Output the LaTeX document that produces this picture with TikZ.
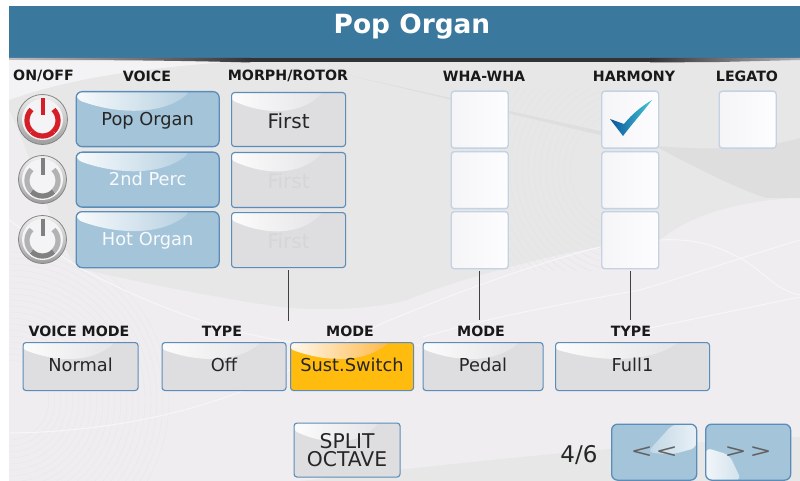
\documentclass[tikz,border=0pt]{standalone}
\usepackage{fontspec}
\usepackage{graphicx}
\setmainfont{DejaVu Sans}
\usetikzlibrary{calc}
\definecolor{hdr}{HTML}{3A789E}
\definecolor{panel}{HTML}{EFEDF0}
\definecolor{swa}{HTML}{E7E7E8}
\definecolor{swb}{HTML}{DEDEDF}
\definecolor{swl}{HTML}{F6F5F7}
\definecolor{ringa}{HTML}{E9E7EA}
\definecolor{ringb}{HTML}{E3E3E4}
\definecolor{edge}{HTML}{5B8DB8}
\definecolor{bluefill}{HTML}{A4C4D9}
\definecolor{greyfill}{HTML}{DEDDE0}
\definecolor{orangefill}{HTML}{FFBB0E}
\definecolor{orangetop}{HTML}{FFA91E}
\definecolor{boxedge}{HTML}{C3D3E3}
\definecolor{boxleft}{HTML}{F5F4F7}
\definecolor{boxright}{HTML}{FDFCFE}
\newcommand{\bbnw}{path picture bounding box.north west}
\newcommand{\bbse}{path picture bounding box.south east}
\tikzset{
  x=1pt,y=-1pt,
  hd/.style={font=\bfseries\fontsize{14.2}{14}\selectfont,text=black!90,inner sep=0pt},
  gloss/.style={path picture={
    \shade[left color=white!92!#1,right color=#1] let \p1=(\bbnw),\p2=(\bbse) in
      (\x1,\y1) -- ({\x1+0.8*(\x2-\x1)},\y1)
      .. controls ({\x1+0.6*(\x2-\x1)},{\y1+0.42*(\y2-\y1)}) and ({\x1+0.3*(\x2-\x1)},{\y1+0.42*(\y2-\y1)})
      .. (\x1,{\y1+0.14*(\y2-\y1)}) -- cycle;}},
  glossprev/.style={path picture={
    \shade[left color=bluefill,right color=white!75!bluefill] let \p1=(\bbnw),\p2=(\bbse) in
      (\x2,\y1) -- ({\x1+0.72*(\x2-\x1)},\y1)
      -- ({\x1+0.42*(\x2-\x1)},{\y1+0.5*(\y2-\y1)})
      .. controls ({\x1+0.7*(\x2-\x1)},{\y1+0.55*(\y2-\y1)}) .. (\x2,{\y1+0.42*(\y2-\y1)}) -- cycle;}},
  glossnext/.style={path picture={
    \shade[left color=white!85!bluefill,right color=bluefill] let \p1=(\bbnw),\p2=(\bbse) in
      (\x1,\y2) -- ({\x1+0.42*(\x2-\x1)},\y2)
      -- ({\x1+0.28*(\x2-\x1)},{\y1+0.55*(\y2-\y1)})
      -- (\x1,{\y1+0.42*(\y2-\y1)}) -- cycle;}},
  btn/.style={draw=edge,line width=1.1pt,rounded corners=3pt,anchor=north west,inner sep=0pt,
    font=\fontsize{17.8}{17.8}\selectfont,text=black!85,text height=13pt,text depth=3.5pt},
  bluebtn/.style={btn,fill=bluefill,rounded corners=6pt,gloss=bluefill,line width=1.3pt,text height=16pt},
  navbtn/.style={btn,fill=bluefill,rounded corners=6pt,line width=1.3pt,text=black!62,font=\fontsize{22}{22}\selectfont,text height=11pt,text depth=0pt},
  greybtn/.style={btn,fill=greyfill,gloss=greyfill},
  orangebtn/.style={btn,fill=orangefill,gloss=orangetop},
  firstbtn/.style={greybtn,font=\fontsize{20}{20}\selectfont,minimum width=114pt,text height=20.5pt},
  tickbox/.style={draw=boxedge,line width=1.4pt,rounded corners=3pt,anchor=north west,inner sep=0pt,
    left color=boxleft,right color=boxright,minimum width=57pt,minimum height=57pt},
  pwr/.style={circle,draw=black!48,line width=0.8pt,top color=black!6,bottom color=black!38,inner sep=0pt},
  link/.style={draw=black!75,line width=0.9pt},
  pale/.style={text=white!92!bluefill},
  ghost/.style={text=black!16},
  sw/.style={draw=swl,line width=1.1pt}
}
\newcommand{\powerface}[1]{\fill[swl!70!panel] (#1) circle[radius=20.5pt];}
\newcommand{\powericon}[3]{%
  \draw[line width=5.2pt,#3] ($(#1)+(11,-10)$) arc[start angle=45,end angle=-45,radius=15.5pt];
  \draw[line width=5.2pt,#3] ($(#1)+(-11,-10)$) arc[start angle=135,end angle=225,radius=15.5pt];
  \draw[line width=5.2pt,#2] ($(#1)+(11,12)$) arc[start angle=-45,end angle=-135,radius=15.5pt];
  \draw[line width=4pt,#2] ($(#1)+(0,-21)$) -- ($(#1)+(0,-4)$);
}
\newcommand{\bigless}{\scalebox{1.2}[.85]{<}\hspace{3pt}\scalebox{1.2}[.85]{<}}
\newcommand{\bigmore}{\scalebox{1.2}[.85]{>}\hspace{3pt}\scalebox{1.2}[.85]{>}}
\begin{document}
\begin{tikzpicture}
\useasboundingbox (0,0) rectangle (800,481);
\fill[white] (0,0) rectangle (800,481);
\fill[panel] (9,6) rectangle (800,481);
% background swirls
\begin{scope}
\clip (9,58) rectangle (800,481);
\fill[swa] (9,60) -- (800,60) -- (800,198) .. controls (740,200) and (690,215) .. (660,240)
  .. controls (620,238) and (480,270) .. (407,300) .. controls (370,310) and (310,312) .. (267,305)
  .. controls (200,295) and (130,280) .. (77,268) .. controls (50,230) and (30,150) .. (9,110) -- cycle;
\fill[swb] (347,75) -- (600,131) -- (657,147) .. controls (700,170) and (740,190) .. (767,198) -- (800,198) -- (800,138)
  .. controls (760,150) and (700,150) .. (657,146) -- (600,135) -- cycle;
\fill[swa] (300,481) .. controls (400,470) and (600,445) .. (800,437) -- (800,481) -- cycle;
\fill[swl!60!panel] (9,60) -- (250,60) .. controls (150,68) and (80,75) .. (9,100) -- cycle;
\begin{scope}
\clip (9,250) rectangle (175,481);
\foreach \r in {40,46,...,160}{\draw[ringa,line width=0.4pt] (9,400) circle[radius=\r];}
\end{scope}
\begin{scope}
\clip (400,90) rectangle (600,270);
\foreach \r in {60,66,...,170}{\draw[ringb,line width=0.4pt] (630,170) circle[radius=\r];}
\end{scope}
\draw[sw] (10,433) .. controls (100,432) and (180,415) .. (240,392) .. controls (290,372) and (340,345) .. (383,323) .. controls (450,295) and (530,265) .. (600,247);
\draw[sw] (423,337) .. controls (480,320) and (540,308) .. (640,290) .. controls (690,275) and (740,258) .. (800,240);
\draw[sw] (650,328) -- (800,297);
\draw[sw] (660,240) .. controls (700,238) and (720,248) .. (740,258) .. controls (765,272) and (775,290) .. (800,295);
\draw[sw] (9,220) .. controls (30,235) and (60,255) .. (80,268) .. controls (130,295) and (200,325) .. (267,338) .. controls (320,348) and (370,350) .. (420,345);
\end{scope}
% header
\fill[hdr] (9,6) rectangle (800,58.5);
\shade[left color=black!25,right color=black!80] (9,58) -- (250,58) -- (250,62.5) .. controls (160,60) and (80,60) .. (9,60) -- cycle;
\fill[black!80] (250,58) rectangle (650,62.5);
\shade[left color=black!80,right color=black!30] (650,58) -- (800,58) -- (800,60) -- (720,62) -- (650,62.5) -- cycle;
\node[text=white,font=\bfseries\fontsize{26.4}{26}\selectfont,inner sep=0pt] (title) at (412,26.5) {Pop Organ};
% column headings
\node[hd] (hon) at (43.5,76) {ON/OFF};
\node[hd] (hvo) at (147,76) {VOICE};
\node[hd] (hmo) at (288,76) {MORPH/ROTOR};
\node[hd] (hwh) at (484,76) {WHA-WHA};
\node[hd] (hha) at (634,76) {HARMONY};
\node[hd] (hle) at (747,76) {LEGATO};
\node[hd] (hvm) at (79,331) {VOICE MODE};
\node[hd] (hty) at (222,331) {TYPE};
\node[hd] (hmd) at (350,331) {MODE};
\node[hd] (hm2) at (481,331) {MODE};
\node[hd] (ht2) at (631,331) {TYPE};
% power buttons
\node[pwr,minimum size=50pt] (p1) at (42.5,119.5) {};
\node[pwr,minimum size=48pt] (p2) at (42.5,179.5) {};
\node[pwr,minimum size=48pt] (p3) at (42.5,239.5) {};
\powerface{p1}\powerface{p2}\powerface{p3}
\powericon{p1}{draw={rgb,255:red,214;green,30;blue,40}}{draw={rgb,255:red,214;green,30;blue,40}}
\powericon{p2}{draw=black!50}{draw=black!30}
\powericon{p3}{draw=black!50}{draw=black!30}
% voice column
\node[bluebtn,minimum width=143pt,minimum height=55pt] (v1) at (75.5,91) {Pop Organ};
\node[bluebtn,pale,minimum width=143pt,minimum height=55pt] (v2) at (75.5,151.5) {2nd Perc};
\node[bluebtn,pale,minimum width=143pt,minimum height=56pt] (v3) at (75.5,211) {Hot Organ};
% morph column
\node[firstbtn,minimum height=54pt] (m1) at (231,92) {First};
\node[firstbtn,ghost,minimum height=55pt] (m2) at (231,152) {First};
\node[firstbtn,ghost,minimum height=55pt] (m3) at (231,212) {First};
% check boxes
\node[tickbox] (w1) at (450.5,90.5) {};
\node[tickbox] (w2) at (450.5,151) {};
\node[tickbox] (w3) at (450.5,211) {};
\node[tickbox] (h1) at (601,90.5) {};
\node[tickbox] (h2) at (601,151) {};
\node[tickbox] (h3) at (601,211) {};
\node[tickbox] (l1) at (718.5,90.5) {};
\shade[left color={rgb,255:red,10;green,85;blue,155},right color={rgb,255:red,70;green,200;blue,215}]
  (610,119) -- (624,124) .. controls (632,114) and (642,106) .. (652,100) .. controls (642,113) and (632,124) .. (623,136) -- cycle;
% lower row
\node[greybtn,minimum width=115pt,minimum height=48pt] (vm) at (22.5,342) {Normal};
\node[greybtn,minimum width=124pt,minimum height=48pt] (ty) at (161.5,342) {Off};
\node[orangebtn,minimum width=123pt,minimum height=48pt] (ss) at (290,342) {Sust.Switch};
\node[greybtn,minimum width=120pt,minimum height=48pt] (pe) at (422.5,342) {Pedal};
\node[greybtn,minimum width=154pt,minimum height=48pt] (fu) at (555,342) {Full1};
\node[greybtn,align=center,font=\fontsize{20.3}{18.5}\selectfont,text height=,text depth=,minimum width=106pt,minimum height=54pt] (so) at (293.5,422.5) {SPLIT\\OCTAVE};
\node[inner sep=0pt,font=\fontsize{23}{23}\selectfont,text=black!85] (pg) at (579,455) {4/6};
\node[navbtn,glossprev,minimum width=85pt,minimum height=56pt] (prev) at (611,423.5) {\bigless};
\node[navbtn,glossnext,minimum width=85pt,minimum height=56pt] (next) at (705,423.5) {\bigmore};
% connectors
\coordinate (ea) at (288,321);
\coordinate (eb) at (479.5,320);
\coordinate (ec) at (630,320);
\draw[link] (m3.south -| ea) ++(0,2) -- (ea);
\draw[link] (w3.south -| eb) ++(0,2) -- (eb);
\draw[link] (h3.south -| ec) ++(0,2) -- (ec);
\end{tikzpicture}
\end{document}
